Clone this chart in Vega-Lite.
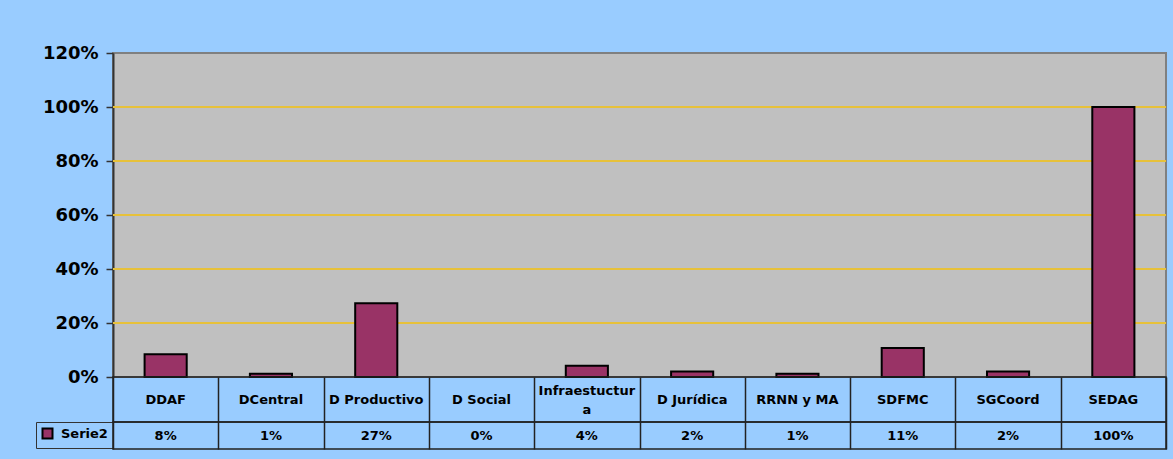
{
  "$schema": "https://vega.github.io/schema/vega-lite/v6.json",
  "background": "#99CCFF",
  "padding": {"left": 34, "top": 43, "right": 8, "bottom": 12},
  "bounds": "flush",
  "spacing": 0,
  "data": {
    "values": [
      {"cat": "DDAF", "label": "DDAF", "value": 0.084, "series": "Serie2"},
      {"cat": "DCentral", "label": "DCentral", "value": 0.012, "series": "Serie2"},
      {"cat": "D Productivo", "label": "D Productivo", "value": 0.273, "series": "Serie2"},
      {"cat": "D Social", "label": "D Social", "value": 0, "series": "Serie2"},
      {"cat": "Infraestuctura", "label": "Infraestuctur\na", "value": 0.042, "series": "Serie2"},
      {"cat": "D Jurídica", "label": "D Jurídica", "value": 0.02, "series": "Serie2"},
      {"cat": "RRNN y MA", "label": "RRNN y MA", "value": 0.012, "series": "Serie2"},
      {"cat": "SDFMC", "label": "SDFMC", "value": 0.107, "series": "Serie2"},
      {"cat": "SGCoord", "label": "SGCoord", "value": 0.02, "series": "Serie2"},
      {"cat": "SEDAG", "label": "SEDAG", "value": 1.0, "series": "Serie2"}
    ]
  },
  "vconcat": [
    {
      "width": 1053,
      "height": 324,
      "view": {"fill": "#C0C0C0", "stroke": "#808080", "strokeWidth": 2},
      "layer": [
        {"mark": {"type": "rule", "color": "#E8C23A", "strokeWidth": 1.2}, "encoding": {"y": {"datum": 0.2, "type": "quantitative"}}},
        {"mark": {"type": "rule", "color": "#E8C23A", "strokeWidth": 1.2}, "encoding": {"y": {"datum": 0.4, "type": "quantitative"}}},
        {"mark": {"type": "rule", "color": "#E8C23A", "strokeWidth": 1.2}, "encoding": {"y": {"datum": 0.6, "type": "quantitative"}}},
        {"mark": {"type": "rule", "color": "#E8C23A", "strokeWidth": 1.2}, "encoding": {"y": {"datum": 0.8, "type": "quantitative"}}},
        {"mark": {"type": "rule", "color": "#E8C23A", "strokeWidth": 1.2}, "encoding": {"y": {"datum": 1.0, "type": "quantitative"}}},
        {
          "transform": [{"filter": "datum.value > 0"}],
          "mark": {"type": "bar", "stroke": "#000000", "strokeWidth": 2, "width": {"band": 0.4}},
          "encoding": {
            "x": {
              "field": "cat", "type": "nominal",
              "scale": {"domain": ["DDAF", "DCentral", "D Productivo", "D Social", "Infraestuctura", "D Jurídica", "RRNN y MA", "SDFMC", "SGCoord", "SEDAG"], "paddingInner": 0, "paddingOuter": 0},
              "axis": null
            },
            "y": {
              "field": "value", "type": "quantitative",
              "scale": {"domain": [0, 1.2], "nice": false},
              "axis": {
                "values": [0, 0.2, 0.4, 0.6, 0.8, 1, 1.2],
                "format": ".0%",
                "title": null,
                "labelFont": "DejaVu Sans",
                "labelFontWeight": "bold",
                "labelFontSize": 18,
                "labelColor": "#000000",
                "tickSize": 7,
                "tickColor": "#333333",
                "tickWidth": 1.5,
                "labelPadding": 8,
                "domainColor": "#333333",
                "domainWidth": 2,
                "grid": false
              }
            },
            "color": {
              "field": "series", "type": "nominal",
              "scale": {"range": ["#993366"]},
              "legend": {
                "orient": "none",
                "legendX": -77,
                "legendY": 369,
                "title": null,
                "strokeColor": "#333333",
                "padding": 5,
                "symbolType": "square",
                "symbolSize": 100,
                "symbolStrokeColor": "#000000",
                "symbolStrokeWidth": 2,
                "labelFont": "DejaVu Sans",
                "labelFontWeight": "bold",
                "labelFontSize": 13,
                "labelColor": "#000000",
                "labelOffset": 7
              }
            }
          }
        }
      ]
    },
    {
      "width": 1053,
      "height": 45,
      "view": {"stroke": "#222222", "strokeWidth": 1.5},
      "encoding": {
        "x": {
          "field": "cat", "type": "nominal",
          "scale": {"domain": ["DDAF", "DCentral", "D Productivo", "D Social", "Infraestuctura", "D Jurídica", "RRNN y MA", "SDFMC", "SGCoord", "SEDAG"], "paddingInner": 0, "paddingOuter": 0},
          "axis": {"labels": false, "ticks": false, "domain": false, "title": null, "grid": true, "tickBand": "extent", "gridColor": "#222222", "gridWidth": 1.5, "gridOpacity": 1}
        },
        "text": {"field": "label", "type": "nominal"}
      },
      "layer": [
        {
          "transform": [{"filter": "datum.cat != 'Infraestuctura'"}],
          "mark": {"type": "text", "font": "DejaVu Sans", "fontWeight": "bold", "fontSize": 13, "color": "#000000"}
        },
        {
          "transform": [{"filter": "datum.cat == 'Infraestuctura'"}],
          "mark": {"type": "text", "font": "DejaVu Sans", "fontWeight": "bold", "fontSize": 13, "lineBreak": "\n", "lineHeight": 19, "dy": -9, "color": "#000000"}
        }
      ]
    },
    {
      "width": 1053,
      "height": 27,
      "view": {"stroke": "#222222", "strokeWidth": 1.5},
      "mark": {"type": "text", "font": "DejaVu Sans", "fontWeight": "bold", "fontSize": 13, "color": "#000000"},
      "encoding": {
        "x": {
          "field": "cat", "type": "nominal",
          "scale": {"domain": ["DDAF", "DCentral", "D Productivo", "D Social", "Infraestuctura", "D Jurídica", "RRNN y MA", "SDFMC", "SGCoord", "SEDAG"], "paddingInner": 0, "paddingOuter": 0},
          "axis": {"labels": false, "ticks": false, "domain": false, "title": null, "grid": true, "tickBand": "extent", "gridColor": "#222222", "gridWidth": 1.5, "gridOpacity": 1}
        },
        "text": {"field": "value", "type": "quantitative", "format": ".0%"}
      }
    }
  ],
  "resolve": {"legend": {"color": "independent"}}
}
